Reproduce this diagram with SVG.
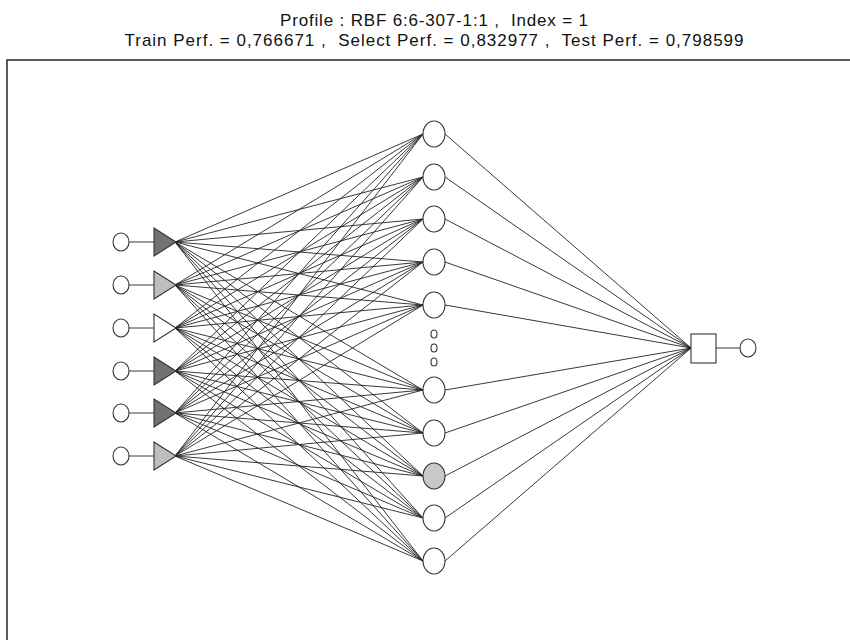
<svg xmlns="http://www.w3.org/2000/svg" width="850" height="640" viewBox="0 0 850 640">
<style>
.t{font-family:"Liberation Sans",Arial,sans-serif;font-size:17px;fill:#111;text-anchor:middle;white-space:pre}
.e line{stroke:#222;stroke-width:0.9}
.n{stroke:#333;stroke-width:1.1;fill:#fff}
.dk{fill:#727272}
.lt{fill:#bebebe}
.gh{fill:#c8c8c8}
.w{stroke:#222;stroke-width:1.2}
</style>
<rect width="850" height="640" fill="#fff"/>
<text class="t" x="434" y="26" textLength="308" lengthAdjust="spacing" xml:space="preserve">Profile : RBF 6:6-307-1:1 ,  Index = 1</text>
<text class="t" x="434" y="46" textLength="619" lengthAdjust="spacing" xml:space="preserve">Train Perf. = 0,766671 ,  Select Perf. = 0,832977 ,  Test Perf. = 0,798599</text>
<rect x="7" y="60" width="900" height="700" fill="none" stroke="#333" stroke-width="1.6"/>
<g id="connectors" class="e">
<line class="w" x1="129" y1="242" x2="154" y2="242"/>
<line class="w" x1="129" y1="285" x2="154" y2="285"/>
<line class="w" x1="129" y1="328" x2="154" y2="328"/>
<line class="w" x1="129" y1="371" x2="154" y2="371"/>
<line class="w" x1="129" y1="413" x2="154" y2="413"/>
<line class="w" x1="129" y1="456" x2="154" y2="456"/>
<line x1="175" y1="242" x2="423" y2="134"/><line x1="175" y1="242" x2="423" y2="177"/><line x1="175" y1="242" x2="423" y2="219"/><line x1="175" y1="242" x2="423" y2="262"/><line x1="175" y1="242" x2="423" y2="305"/><line x1="175" y1="242" x2="423" y2="390"/><line x1="175" y1="242" x2="423" y2="433"/><line x1="175" y1="242" x2="423" y2="476"/><line x1="175" y1="242" x2="423" y2="518"/><line x1="175" y1="242" x2="423" y2="561"/>
<line x1="175" y1="285" x2="423" y2="134"/><line x1="175" y1="285" x2="423" y2="177"/><line x1="175" y1="285" x2="423" y2="219"/><line x1="175" y1="285" x2="423" y2="262"/><line x1="175" y1="285" x2="423" y2="305"/><line x1="175" y1="285" x2="423" y2="390"/><line x1="175" y1="285" x2="423" y2="433"/><line x1="175" y1="285" x2="423" y2="476"/><line x1="175" y1="285" x2="423" y2="518"/><line x1="175" y1="285" x2="423" y2="561"/>
<line x1="175" y1="328" x2="423" y2="134"/><line x1="175" y1="328" x2="423" y2="177"/><line x1="175" y1="328" x2="423" y2="219"/><line x1="175" y1="328" x2="423" y2="262"/><line x1="175" y1="328" x2="423" y2="305"/><line x1="175" y1="328" x2="423" y2="390"/><line x1="175" y1="328" x2="423" y2="433"/><line x1="175" y1="328" x2="423" y2="476"/><line x1="175" y1="328" x2="423" y2="518"/><line x1="175" y1="328" x2="423" y2="561"/>
<line x1="175" y1="371" x2="423" y2="134"/><line x1="175" y1="371" x2="423" y2="177"/><line x1="175" y1="371" x2="423" y2="219"/><line x1="175" y1="371" x2="423" y2="262"/><line x1="175" y1="371" x2="423" y2="305"/><line x1="175" y1="371" x2="423" y2="390"/><line x1="175" y1="371" x2="423" y2="433"/><line x1="175" y1="371" x2="423" y2="476"/><line x1="175" y1="371" x2="423" y2="518"/><line x1="175" y1="371" x2="423" y2="561"/>
<line x1="175" y1="413" x2="423" y2="134"/><line x1="175" y1="413" x2="423" y2="177"/><line x1="175" y1="413" x2="423" y2="219"/><line x1="175" y1="413" x2="423" y2="262"/><line x1="175" y1="413" x2="423" y2="305"/><line x1="175" y1="413" x2="423" y2="390"/><line x1="175" y1="413" x2="423" y2="433"/><line x1="175" y1="413" x2="423" y2="476"/><line x1="175" y1="413" x2="423" y2="518"/><line x1="175" y1="413" x2="423" y2="561"/>
<line x1="175" y1="456" x2="423" y2="134"/><line x1="175" y1="456" x2="423" y2="177"/><line x1="175" y1="456" x2="423" y2="219"/><line x1="175" y1="456" x2="423" y2="262"/><line x1="175" y1="456" x2="423" y2="305"/><line x1="175" y1="456" x2="423" y2="390"/><line x1="175" y1="456" x2="423" y2="433"/><line x1="175" y1="456" x2="423" y2="476"/><line x1="175" y1="456" x2="423" y2="518"/><line x1="175" y1="456" x2="423" y2="561"/>
<line x1="445" y1="134" x2="691" y2="348"/><line x1="445" y1="177" x2="691" y2="348"/><line x1="445" y1="219" x2="691" y2="348"/><line x1="445" y1="262" x2="691" y2="348"/><line x1="445" y1="305" x2="691" y2="348"/><line x1="445" y1="390" x2="691" y2="348"/><line x1="445" y1="433" x2="691" y2="348"/><line x1="445" y1="476" x2="691" y2="348"/><line x1="445" y1="518" x2="691" y2="348"/><line x1="445" y1="561" x2="691" y2="348"/>
<line class="w" x1="716" y1="348" x2="740" y2="348"/>
</g>
<g id="in1"><ellipse class="n" cx="121" cy="242" rx="8" ry="9"/><polygon class="n dk" points="154,228 154,256 176,242"/></g>
<g id="in2"><ellipse class="n" cx="121" cy="285" rx="8" ry="9"/><polygon class="n lt" points="154,271 154,299 176,285"/></g>
<g id="in3"><ellipse class="n" cx="121" cy="328" rx="8" ry="9"/><polygon class="n" points="154,314 154,342 176,328"/></g>
<g id="in4"><ellipse class="n" cx="121" cy="371" rx="8" ry="9"/><polygon class="n dk" points="154,357 154,385 176,371"/></g>
<g id="in5"><ellipse class="n" cx="121" cy="413" rx="8" ry="9"/><polygon class="n dk" points="154,399 154,427 176,413"/></g>
<g id="in6"><ellipse class="n" cx="121" cy="456" rx="8" ry="9"/><polygon class="n lt" points="154,442 154,470 176,456"/></g>
<g id="h1"><ellipse class="n" cx="434" cy="134" rx="11" ry="13"/></g>
<g id="h2"><ellipse class="n" cx="434" cy="177" rx="11" ry="13"/></g>
<g id="h3"><ellipse class="n" cx="434" cy="219" rx="11" ry="13"/></g>
<g id="h4"><ellipse class="n" cx="434" cy="262" rx="11" ry="13"/></g>
<g id="h5"><ellipse class="n" cx="434" cy="305" rx="11" ry="13"/></g>
<g id="dots"><ellipse class="n" cx="434" cy="334" rx="3" ry="4"/><ellipse class="n" cx="434" cy="348" rx="3" ry="4"/><ellipse class="n" cx="434" cy="362" rx="3" ry="4"/></g>
<g id="h6"><ellipse class="n" cx="434" cy="390" rx="11" ry="13"/></g>
<g id="h7"><ellipse class="n" cx="434" cy="433" rx="11" ry="13"/></g>
<g id="h8"><ellipse class="n gh" cx="434" cy="476" rx="11" ry="13"/></g>
<g id="h9"><ellipse class="n" cx="434" cy="518" rx="11" ry="13"/></g>
<g id="h10"><ellipse class="n" cx="434" cy="561" rx="11" ry="13"/></g>
<g id="out"><rect class="n" x="691" y="334" width="25" height="29"/><ellipse class="n" cx="748" cy="348" rx="8" ry="9"/></g>
</svg>
